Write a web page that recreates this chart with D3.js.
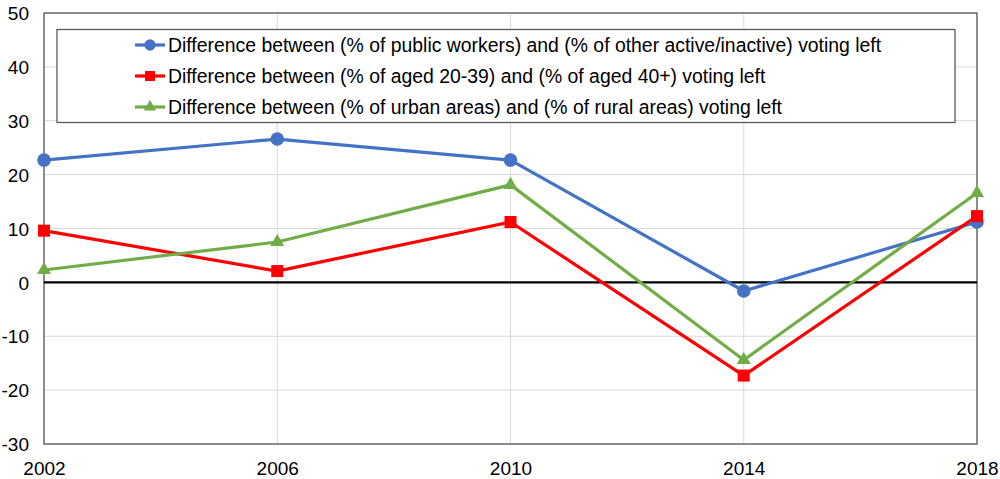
<!DOCTYPE html>
<html><head><meta charset="utf-8">
<script src="https://cdn.jsdelivr.net/npm/d3@7"></script>
<style>body{margin:0;background:#fff;} svg{display:block;font-family:"Liberation Sans",Arial,sans-serif;}</style>
</head><body><svg id="c" width="1000" height="479"></svg>
<script>
const years = ["2002","2006","2010","2014","2018"];
const yTicks = [50,40,30,20,10,0,-10,-20,-30];
const publicWorkers = [22.7, 26.6, 22.7, -1.6, 11.2];
const youngVsOld = [9.6, 2.1, 11.2, -17.3, 12.3];
const urbanVsRural = [2.3, 7.5, 18.1, -14.4, 16.6];
const seriesNames = [
  "Difference between (% of public workers) and (% of other active/inactive) voting left",
  "Difference between (% of aged 20-39) and (% of aged 40+) voting left",
  "Difference between (% of urban areas) and (% of rural areas) voting left"
];
const colors = ["#4472C4","#FF0000","#70AD47"];
const shapes = [d3.symbolCircle, d3.symbolSquare, d3.symbolTriangle];
const allSeries = [publicWorkers, youngVsOld, urbanVsRural];

const svg = d3.select("#c");
const L=44, R=977, T=13, B=444;
const FS = 19, LFS = 19.4;
const x = d3.scalePoint().domain(years).range([L,R]);
const y = d3.scaleLinear().domain([-30,50]).range([B,T]);

// gridlines
svg.append("g").selectAll("line").data(yTicks).join("line")
  .attr("x1",L).attr("x2",R).attr("y1",d=>y(d)).attr("y2",d=>y(d))
  .attr("stroke","#d9d9d9").attr("stroke-width",1);
svg.append("g").selectAll("line").data(years).join("line")
  .attr("x1",d=>x(d)).attr("x2",d=>x(d)).attr("y1",T).attr("y2",B)
  .attr("stroke","#d9d9d9").attr("stroke-width",1);
// plot border
svg.append("rect").attr("x",L).attr("y",T).attr("width",R-L).attr("height",B-T)
  .attr("fill","none").attr("stroke","#595959").attr("stroke-width",1.3);
// zero line
svg.append("line").attr("x1",L).attr("x2",R).attr("y1",y(0)).attr("y2",y(0))
  .attr("stroke","#000").attr("stroke-width",2.4);

// axes
const yAxis = svg.append("g").attr("transform",`translate(${L-15},0)`)
  .call(d3.axisLeft(y).tickValues(yTicks).tickSize(0).tickPadding(0).tickFormat(d=>String(d)));
yAxis.select(".domain").remove();
yAxis.selectAll("text").attr("font-size",FS).attr("fill","#000").attr("font-family","Liberation Sans, Arial, sans-serif").attr("dy","0.35em");
const xAxis = svg.append("g").attr("transform",`translate(0,${B+13.5})`)
  .call(d3.axisBottom(x).tickSize(0).tickPadding(0));
xAxis.select(".domain").remove();
xAxis.selectAll("text").attr("font-size",FS).attr("fill","#000").attr("font-family","Liberation Sans, Arial, sans-serif").attr("dy","0.9em");

// series
const line = d3.line().x((d,i)=>x(years[i])).y(d=>y(d));
allSeries.forEach((s,k)=>{
  svg.append("path").datum(s).attr("d",line).attr("fill","none")
    .attr("stroke",colors[k]).attr("stroke-width",3.2).attr("stroke-linejoin","round");
});
const markerSize = [145, 145, 85];
allSeries.forEach((s,k)=>{
  svg.append("g").selectAll("path").data(s).join("path")
    .attr("transform",(d,i)=>`translate(${x(years[i])},${y(d)})`)
    .attr("d",d3.symbol().type(shapes[k]).size(markerSize[k])).attr("fill",colors[k]);
});

// legend
const lg = svg.append("g");
lg.append("rect").attr("x",57).attr("y",29.5).attr("width",898).attr("height",93)
  .attr("fill","#fff").attr("stroke","#595959").attr("stroke-width",1.3);
const rowY = [45,76,107];
const legSize = [100, 100, 65];
seriesNames.forEach((n,k)=>{
  const g = lg.append("g").attr("transform",`translate(0,${rowY[k]})`);
  g.append("line").attr("x1",135).attr("x2",165).attr("y1",0).attr("y2",0)
    .attr("stroke",colors[k]).attr("stroke-width",3.2);
  g.append("path").attr("transform",`translate(150,0)`)
    .attr("d",d3.symbol().type(shapes[k]).size(legSize[k])).attr("fill",colors[k]);
  g.append("text").attr("x",168).attr("y",0).attr("dy","0.35em")
    .attr("font-size",LFS).attr("fill","#000").text(n);
});
</script></body></html>
